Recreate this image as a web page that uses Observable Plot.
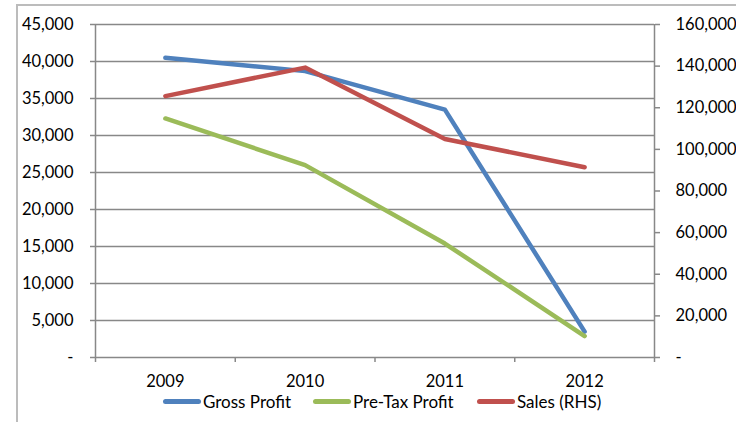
<!DOCTYPE html>
<html><head><meta charset="utf-8">
<script src="https://cdn.jsdelivr.net/npm/d3@7"></script>
<script src="https://cdn.jsdelivr.net/npm/@observablehq/plot@0.6"></script>
<style>
body{margin:0;background:#fff;font-family:Lato,sans-serif;}
#wrap{position:relative;width:736px;height:422px;overflow:hidden;}
#frame{position:absolute;left:16px;top:4px;width:760px;height:440px;border:2px solid #bcbcbc;box-sizing:border-box;}
#chart{position:absolute;left:0;top:0;}
#legend{position:absolute;left:0;top:393px;width:736px;height:17px;font:17px/17px Lato,sans-serif;color:#000;}
.item{position:absolute;top:0;height:17px;display:flex;align-items:center;white-space:nowrap;}
.sw{width:38px;height:5px;border-radius:3px;margin-right:2px;}
</style></head>
<body><div id="wrap"><div id="frame"></div><div id="chart"></div><div id="legend"></div></div>
<script>
const years = [2009, 2010, 2011, 2012];
const grossProfit = [40500, 38700, 33500, 3500];
const preTaxProfit = [32300, 26000, 15400, 2900];
const sales = [125600, 139300, 105000, 91400];
const leftTicks = [0, 5000, 10000, 15000, 20000, 25000, 30000, 35000, 40000, 45000];
const rightTicks = [0, 20000, 40000, 60000, 80000, 100000, 120000, 140000, 160000];
const seriesNames = ["Gross Profit", "Pre-Tax Profit", "Sales (RHS)"];
const seriesColors = ["#4F81BD", "#9BBB59", "#C0504D"];

const leftMax = 45000, rightMax = 160000;
const k = leftMax / rightMax;
const fmt = d => d === 0 ? "-" : d3.format(",")(d);
const grid = "#888888";

const rows = years.map((y, i) => ({year: y, gross: grossProfit[i], pretax: preTaxProfit[i], sales: sales[i]}));
const bounds = [2008.5, 2009.5, 2010.5, 2011.5, 2012.5];

const chart = Plot.plot({
  width: 736, height: 422,
  marginLeft: 95, marginRight: 82, marginTop: 24, marginBottom: 65,
  style: {fontFamily: "Lato, sans-serif", fontSize: "16.5px", color: "#000", background: "transparent"},
  x: {type: "linear", domain: [2008.5, 2012.5]},
  y: {domain: [0, leftMax]},
  marks: [
    Plot.ruleY(leftTicks.filter(d => d > 0), {stroke: grid, strokeWidth: 1.5}),
    Plot.ruleY([0], {stroke: grid, strokeWidth: 1.5}),
    Plot.ruleX([2008.5, 2012.5], {stroke: grid, strokeWidth: 1.5}),
    Plot.axisY({anchor: "left", ticks: leftTicks, tickFormat: fmt, tickSize: 5, tickPadding: 17, label: null, stroke: grid, strokeWidth: 1.5, fill: "#000"}),
    Plot.axisY({anchor: "right", ticks: rightTicks.map(v => v * k), tickFormat: d => fmt(Math.round(d / k)), tickSize: 5, tickPadding: 16, label: null, stroke: grid, strokeWidth: 1.5, fill: "#000"}),
    Plot.axisX({ticks: bounds, tickFormat: () => "", tickSize: 5, stroke: grid, strokeWidth: 1.5, label: null}),
    Plot.axisX({ticks: years, tickFormat: d => String(d), tickSize: 0, tickPadding: 18, label: null, fill: "#000"}),
    Plot.line(rows, {x: "year", y: "gross", stroke: seriesColors[0], strokeWidth: 4.5, strokeLinecap: "round", strokeLinejoin: "round"}),
    Plot.line(rows, {x: "year", y: "pretax", stroke: seriesColors[1], strokeWidth: 4.5, strokeLinecap: "round", strokeLinejoin: "round"}),
    Plot.line(rows, {x: "year", y: d => d.sales * k, stroke: seriesColors[2], strokeWidth: 4.5, strokeLinecap: "round", strokeLinejoin: "round"})
  ]
});
document.getElementById("chart").appendChild(chart);

const legendLeft = [163, 313, 477];
const leg = document.getElementById("legend");
seriesNames.forEach((n, i) => {
  const it = document.createElement("div"); it.className = "item"; it.style.left = legendLeft[i] + "px";
  const sw = document.createElement("div"); sw.className = "sw"; sw.style.background = seriesColors[i];
  const t = document.createElement("span"); t.textContent = n;
  it.appendChild(sw); it.appendChild(t); leg.appendChild(it);
});
</script></body></html>
